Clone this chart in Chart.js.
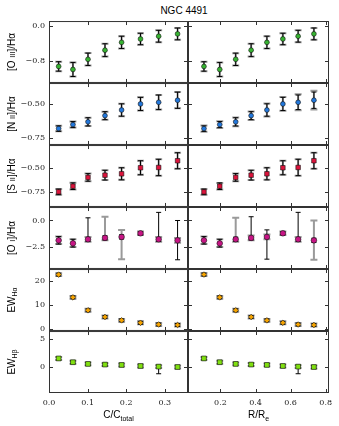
<!DOCTYPE html>
<html lang="en">

<head>
  <meta charset="UTF-8">
  <title>NGC 4491</title>
  <style>
    body { margin: 0; background: #fff; width: 339px; height: 426px; position: relative; overflow: hidden; }
    canvas { position: absolute; }
    #title { position: absolute; top: 5px; left: 134px; width: 100px; text-align: center; line-height: 12px;
      font: 10px "Liberation Sans", Arial, sans-serif; color: #000; }
  </style>
</head>

<body>
  <div id="title">NGC 4491</div>

  <script src="https://cdn.jsdelivr.net/npm/chart.js"></script>
  <script>
    // radial positions of the 8 bins
    const cTotal = [0.025, 0.062, 0.101, 0.145, 0.188, 0.237, 0.284, 0.333]
    const rRe = [0.106, 0.196, 0.287, 0.375, 0.465, 0.556, 0.643, 0.733]

    // log line ratios
    const oiii = [-0.915, -0.984, -0.753, -0.546, -0.369, -0.292, -0.230, -0.177]
    const oiiiErr = [0.107, 0.160, 0.140, 0.146, 0.140, 0.130, 0.134, 0.134]

    const nii = [-0.681, -0.652, -0.632, -0.587, -0.546, -0.502, -0.490, -0.475]
    const niiErr = [0.020, 0.022, 0.030, 0.029, 0.045, 0.048, 0.053, 0.059]
    const niiErrGray = [0.022, 0.024, 0.032, 0.031, 0.047, 0.050, 0.058, 0.068]

    const sii = [-0.745, -0.687, -0.597, -0.574, -0.560, -0.498, -0.495, -0.426]
    const siiErr = [0.029, 0.034, 0.039, 0.050, 0.062, 0.072, 0.084, 0.082]

    const oi = [-1.86, -2.14, -1.76, -1.63, -1.54, -1.20, -1.76, -1.86]
    // [O I] errors are asymmetric and differ between the two columns
    const oiLoBlackL = [0.35, 0.35, 0.20, 0.20, 0.20, 0.16, 0.20, 1.82]
    const oiHiBlackL = [0.35, 0.38, 2.01, 0.20, 0.20, 0.16, 2.52, 1.86]
    const oiLoGrayL = [0.35, 0.35, 0.22, 0.22, 2.08, 0.16, 0.22, 0.22]
    const oiHiGrayL = [0.35, 0.38, 0.22, 1.98, 0.66, 0.16, 0.22, 0.22]
    const oiLoBlackR = [0.35, 0.35, 0.20, 0.20, 2.08, 0.16, 0.20, 0.20]
    const oiHiBlackR = [0.35, 0.38, 0.20, 1.98, 0.66, 0.16, 2.52, 0.20]
    const oiLoGrayR = [0.35, 0.35, 0.22, 0.22, 0.22, 0.16, 0.22, 1.82]
    const oiHiGrayR = [0.35, 0.38, 2.01, 0.22, 0.22, 0.16, 0.22, 1.86]

    // equivalent widths
    const ewHa = [22.6, 13.2, 7.85, 5.1, 3.7, 2.7, 2.0, 1.8]
    const ewHaErr = [0.6, 0.6, 0.6, 0.6, 0.6, 0.6, 0.6, 0.6]

    const ewHb = [1.55, 0.89, 0.59, 0.48, 0.41, 0.23, 0.12, 0.05]
    const ewHbLo = [0.25, 0.25, 0.25, 0.25, 0.25, 0.25, 1.25, 0.25]
    const ewHbHi = [0.25, 0.25, 0.25, 0.25, 0.25, 0.25, 0.25, 0.25]
    const ewHbGray = [0.25, 0.25, 0.25, 0.25, 0.25, 0.25, 0.25, 0.25]

    // axes
    const xLeftRange = [0, 0.36]
    const xRightRange = [0.015, 0.819]
    const xLeftStep = 0.1
    const xRightStep = 0.2

    const rows = [
      { y: oiii, range: [-1.29, 0.115], step: 0.8, dec: 1, color: '#37b332', style: 'circle', r: 2.4,
        label: [['[O ', 'n'], ['III', 'c'], [']/H\u03b1', 'n']],
        err: [[oiiiErr, oiiiErr, oiiiErr, oiiiErr], [oiiiErr, oiiiErr, oiiiErr, oiiiErr]] },
      { y: nii, range: [-0.80, -0.35], step: 0.25, dec: 2, color: '#2378dc', style: 'circle', r: 2.4,
        label: [['[N ', 'n'], ['II', 'c'], [']/H\u03b1', 'n']],
        err: [[niiErr, niiErr, niiErr, niiErr], [niiErr, niiErr, niiErrGray, niiErrGray]] },
      { y: sii, range: [-0.90, -0.265], step: 0.25, dec: 2, color: '#dc143c', style: 'rect', r: 3.2,
        label: [['[S ', 'n'], ['II', 'c'], [']/H\u03b1', 'n']],
        err: [[siiErr, siiErr, siiErr, siiErr], [siiErr, siiErr, siiErr, siiErr]] },
      { y: oi, range: [-4.54, 1.26], step: 2.5, dec: 1, color: '#c71585', style: 'circle', r: 2.8,
        label: [['[O ', 'n'], ['I', 'c'], [']/H\u03b1', 'n']],
        err: [[oiLoBlackL, oiHiBlackL, oiLoGrayL, oiHiGrayL], [oiLoBlackR, oiHiBlackR, oiLoGrayR, oiHiGrayR]] },
      { y: ewHa, range: [-0.68, 24.9], step: 10, dec: 0, color: '#f5a300', style: 'rectRot', r: 2.8,
        label: [['EW', 'n'], ['H\u03b1', 's']],
        err: [[ewHaErr, ewHaErr, ewHaErr, ewHaErr], [ewHaErr, ewHaErr, ewHaErr, ewHaErr]] },
      { y: ewHb, range: [-4.5, 6.35], step: 5, dec: 0, color: '#80e010', style: 'rect', r: 3.4,
        label: [['EW', 'n'], ['H\u03b2', 's']],
        err: [[ewHbLo, ewHbHi, ewHbGray, ewHbGray], [ewHbLo, ewHbHi, ewHbGray, ewHbGray]] }
    ]

    const xTitles = [[['C/C', 'n'], ['total', 's']], [['R/R', 'n'], ['e', 's']]]

    const SANS = '"Liberation Sans", Arial, sans-serif'
    const SERIF = '"DejaVu Serif", serif'
    const TOP = 21
    const ROW_H = 62

    const fmt = (dec) => (v) => v.toFixed(dec).replace('-', '\u2212')

    // text with small caps / subscript parts, centred on (x, y)
    const drawParts = (ctx, parts, x, y, rotate) => {
      const fontOf = (p) => (p[1] === 'n' ? 10 : p[1] === 'c' ? 7.4 : 7) + 'px ' + SANS
      ctx.save()
      ctx.translate(x, y)
      if (rotate) ctx.rotate(-Math.PI / 2)
      let total = 0
      parts.forEach(p => { ctx.font = fontOf(p); total += ctx.measureText(p[0]).width })
      let cx = -total / 2
      ctx.fillStyle = '#000'
      ctx.textBaseline = 'alphabetic'
      parts.forEach(p => {
        ctx.font = fontOf(p)
        ctx.fillText(p[0], cx, 3.6 + (p[1] === 's' ? 2.6 : 0))
        cx += ctx.measureText(p[0]).width
      })
      ctx.restore()
    }

    // box around the panel with inward ticks on all four sides
    const frame = {
      id: 'frame',
      afterDraw(chart) {
        const { ctx, chartArea: a, scales: { x, y } } = chart
        ctx.save()
        ctx.strokeStyle = '#333'
        ctx.lineWidth = 1
        ctx.strokeRect(a.left + 0.5, a.top + 0.5, a.width - 1, a.height - 1)
        ctx.beginPath()
        x.ticks.forEach(t => {
          const px = Math.round(x.getPixelForValue(t.value)) + 0.5
          ctx.moveTo(px, a.top); ctx.lineTo(px, a.top + 4)
          ctx.moveTo(px, a.bottom); ctx.lineTo(px, a.bottom - 4)
        })
        y.ticks.forEach(t => {
          const py = Math.round(y.getPixelForValue(t.value)) + 0.5
          ctx.moveTo(a.left, py); ctx.lineTo(a.left + 4, py)
          ctx.moveTo(a.right, py); ctx.lineTo(a.right - 4, py)
        })
        ctx.stroke()
        ctx.restore()
      }
    }

    const errorBars = {
      id: 'errorBars',
      beforeDatasetsDraw(chart) {
        const { ctx, chartArea: a, scales: { y } } = chart
        ctx.save()
        ctx.beginPath()
        ctx.rect(a.left, a.top, a.width, a.height)
        ctx.clip()
        chart.data.datasets.forEach((ds, di) => {
          const meta = chart.getDatasetMeta(di)
          const bars = (lo, hi, color, lw, cap) => {
            ctx.strokeStyle = color
            ctx.lineWidth = lw
            ctx.beginPath()
            meta.data.forEach((pt, k) => {
              const v = ds.data[k].y
              const y0 = y.getPixelForValue(v - lo[k])
              const y1 = y.getPixelForValue(v + hi[k])
              ctx.moveTo(pt.x, y0); ctx.lineTo(pt.x, y1)
              ctx.moveTo(pt.x - cap, y0); ctx.lineTo(pt.x + cap, y0)
              ctx.moveTo(pt.x - cap, y1); ctx.lineTo(pt.x + cap, y1)
            })
            ctx.stroke()
          }
          bars(ds.grayLo, ds.grayHi, '#9a9a9a', 2, 3.5)
          bars(ds.blackLo, ds.blackHi, '#000', 1, 2.5)
        })
        ctx.restore()
      }
    }

    const makePanel = (row, i, col) => {
      const last = i === rows.length - 1
      const canvas = document.createElement('canvas')
      canvas.width = col === 0 ? 188 : 151
      canvas.height = last ? ROW_H + 34 : ROW_H
      canvas.style.left = (col === 0 ? 0 : 188) + 'px'
      canvas.style.top = (TOP + ROW_H * i) + 'px'
      document.body.appendChild(canvas)

      const xs = col === 0 ? cTotal : rRe
      const xr = col === 0 ? xLeftRange : xRightRange
      const [bLo, bHi, gLo, gHi] = row.err[col]

      const labels = {
        id: 'labels',
        afterDraw(chart) {
          const a = chart.chartArea
          if (col === 0) drawParts(chart.ctx, row.label, 11, (a.top + a.bottom) / 2, true)
          if (last) drawParts(chart.ctx, xTitles[col], (a.left + a.right) / 2, a.bottom + 21.5, false)
        }
      }

      new Chart(canvas, {
        type: 'scatter',
        data: {
          datasets: [{
            data: xs.map((x, k) => ({ x: x, y: row.y[k] })),
            pointStyle: row.style,
            pointRadius: row.r,
            backgroundColor: row.color,
            borderColor: '#111',
            borderWidth: 0.6,
            blackLo: bLo, blackHi: bHi, grayLo: gLo, grayHi: gHi
          }]
        },
        options: {
          responsive: false,
          animation: false,
          events: [],
          layout: { autoPadding: false, padding: { left: 0, right: col === 0 ? 0 : 10, top: 0, bottom: 0 } },
          plugins: { legend: { display: false }, tooltip: { enabled: false } },
          scales: {
            x: {
              type: 'linear', min: xr[0], max: xr[1],
              border: { display: false },
              grid: { display: false, drawTicks: false },
              ticks: {
                display: last, stepSize: col === 0 ? xLeftStep : xRightStep, autoSkip: false,
                includeBounds: false, maxRotation: 0, padding: 5, color: '#222',
                font: { family: SERIF, size: 8 }, callback: fmt(1)
              },
              afterFit: (s) => { s.height = last ? 34 : 0 }
            },
            y: {
              type: 'linear', min: row.range[0], max: row.range[1],
              border: { display: false },
              // tick marks are drawn by the frame plugin; tickLength only spaces the labels
              grid: { display: false, drawTicks: true, tickLength: 4 },
              ticks: {
                display: col === 0, stepSize: row.step, autoSkip: false, includeBounds: false,
                padding: 0, color: '#222', font: { family: SERIF, size: 8, lineHeight: 0.01 },
                callback: fmt(row.dec)
              },
              afterFit: (s) => { s.width = col === 0 ? 49 : 0 }
            }
          }
        },
        plugins: [errorBars, frame, labels]
      })
    }

    rows.forEach((row, i) => {
      makePanel(row, i, 0)
      makePanel(row, i, 1)
    })
  </script>
</body>

</html>
